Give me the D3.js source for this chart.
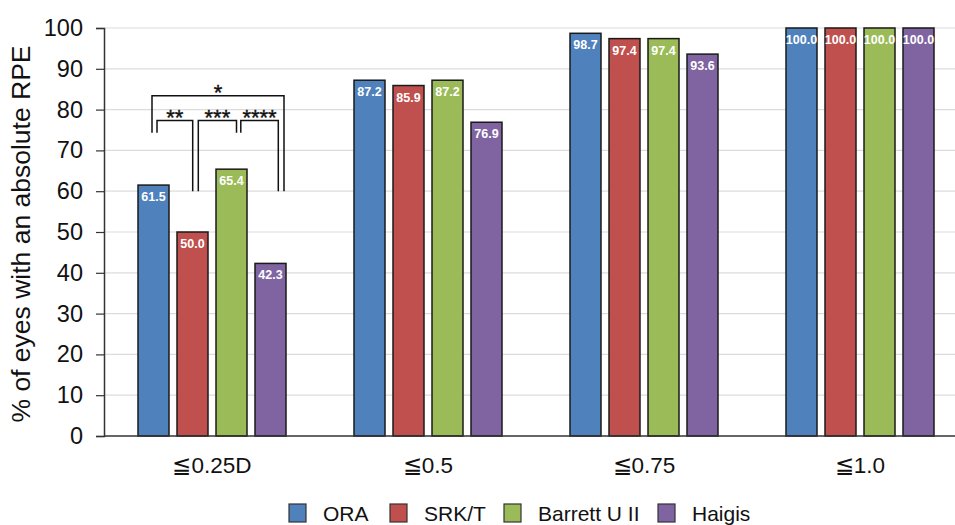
<!DOCTYPE html>
<html>
<head>
<meta charset="utf-8">
<script src="https://cdn.jsdelivr.net/npm/d3@7"></script>
<style>
    body { margin: 0; background: #fff; }
    text { font-family: "Liberation Sans", Arial, sans-serif; }
</style>
</head>
<body>
<div id="chart"></div>
<script>
const categories = ['≦0.25D', '≦0.5', '≦0.75', '≦1.0'];
const series = ['ORA', 'SRK/T', 'Barrett U II', 'Haigis'];
const colors = ['#4f81bd', '#c0504d', '#9bbb59', '#8064a2'];
const oraValues = [61.5, 87.2, 98.7, 100.0];
const srkValues = [50.0, 85.9, 97.4, 100.0];
const barrettValues = [65.4, 87.2, 97.4, 100.0];
const haigisValues = [42.3, 76.9, 93.6, 100.0];
const yTicks = [0, 10, 20, 30, 40, 50, 60, 70, 80, 90, 100];

// significance brackets for the first group: [from, to, label, bar y, left leg end, right leg end]
const brackets = [
    ['ORA', 'SRK/T', '**', 77.3, 74.3, 60, 3.5, 0.2],
    ['SRK/T', 'Barrett U II', '***', 77.3, 60, 74.3, 5.8, 5],
    ['Barrett U II', 'Haigis', '****', 77.3, 74.3, 60, 9.3, 7.8],
    ['ORA', 'Haigis', '*', 83.4, 74.3, 60, -1.5, 13.5]
];

const allValues = [oraValues, srkValues, barrettValues, haigisValues];
const width = 955;
const height = 525;
const margin = { top: 28, left: 104, bottom: 89 };
const plotBottom = height - margin.bottom;

const svg = d3.select('#chart').append('svg')
    .attr('width', width)
    .attr('height', height);

const x = d3.scaleBand().domain(categories).range([margin.left, margin.left + 864]);
const xInner = d3.scaleBand().domain(series).range([30, 186]).paddingInner(8 / 39).paddingOuter(4 / 39);
const y = d3.scaleLinear().domain([0, 100]).range([plotBottom, margin.top]);
const color = d3.scaleOrdinal().domain(series).range(colors);

// gridlines
svg.append('g').selectAll('line')
    .data(yTicks.filter(t => t > 0))
    .enter().append('line')
    .attr('x1', margin.left).attr('x2', width)
    .attr('y1', d => y(d)).attr('y2', d => y(d))
    .attr('stroke', '#dcdcdc').attr('stroke-width', 1.2);

// bars
const rows = [];
categories.forEach((c, i) => series.forEach((s, j) => rows.push({ c, s, v: allValues[j][i] })));

const bars = svg.append('g').selectAll('g')
    .data(rows)
    .enter().append('g');

bars.append('rect')
    .attr('x', d => x(d.c) + xInner(d.s))
    .attr('y', d => y(d.v))
    .attr('width', xInner.bandwidth())
    .attr('height', d => plotBottom - y(d.v))
    .attr('fill', d => color(d.s))
    .attr('stroke', '#1a1a1a')
    .attr('stroke-width', 1.5);

bars.append('text')
    .attr('x', d => x(d.c) + xInner(d.s) + xInner.bandwidth() / 2)
    .attr('y', d => y(d.v) + 16)
    .attr('text-anchor', 'middle')
    .attr('fill', '#fff')
    .attr('font-size', 12.5)
    .attr('font-weight', 'bold')
    .text(d => d.v.toFixed(1));

// axes
const yAxis = svg.append('g')
    .attr('transform', `translate(${margin.left},0)`)
    .call(d3.axisLeft(y).tickValues(yTicks).tickSize(8).tickPadding(13));
yAxis.select('.domain').attr('stroke', '#333').attr('stroke-width', 1.5);
yAxis.selectAll('.tick line').attr('stroke', '#333').attr('stroke-width', 1.2);
yAxis.selectAll('.tick text')
    .attr('font-size', 23.5)
    .attr('fill', '#111')
    .style('font-family', '"Liberation Sans", Arial, sans-serif');

svg.append('line')
    .attr('x1', margin.left).attr('x2', width)
    .attr('y1', plotBottom).attr('y2', plotBottom)
    .attr('stroke', '#333').attr('stroke-width', 1.5);

svg.append('g').selectAll('text')
    .data(categories)
    .enter().append('text')
    .attr('x', d => x(d) + x.bandwidth() / 2)
    .attr('y', 473)
    .attr('text-anchor', 'middle')
    .attr('font-size', 22.5)
    .attr('fill', '#111')
    .text(d => d);

svg.append('text')
    .attr('transform', `translate(30,${(margin.top + plotBottom) / 2 + 2}) rotate(-90)`)
    .attr('text-anchor', 'middle')
    .attr('font-size', 26.5)
    .attr('fill', '#111')
    .text('% of eyes with an absolute RPE');

// significance brackets
const cx = s => x(categories[0]) + xInner(s) + xInner.bandwidth() / 2;
const br = svg.append('g').attr('fill', 'none').attr('stroke', '#111').attr('stroke-width', 1.5);
brackets.forEach(([a, b, label, top, leftEnd, rightEnd, dxA, dxB]) => {
    const x1 = cx(a) + dxA;
    const x2 = cx(b) + dxB;
    br.append('path')
        .attr('d', `M${x1},${y(leftEnd)}V${y(top)}H${x2}V${y(rightEnd)}`);
    svg.append('text')
        .attr('x', (x1 + x2) / 2)
        .attr('y', y(top) + 4)
        .attr('text-anchor', 'middle')
        .attr('font-size', 22)
        .attr('fill', '#111')
        .attr('stroke', '#111')
        .attr('stroke-width', 0.4)
        .text(label);
});

// legend
const legendX = [289, 390, 504, 658];
const legend = svg.append('g').selectAll('g')
    .data(series)
    .enter().append('g')
    .attr('transform', (d, i) => `translate(${legendX[i]},504)`);

legend.append('rect')
    .attr('width', 17).attr('height', 18)
    .attr('fill', d => color(d))
    .attr('stroke', '#333').attr('stroke-width', 1.2);

legend.append('text')
    .attr('x', 34)
    .attr('y', 17)
    .attr('font-size', 21)
    .attr('fill', '#111')
    .text(d => d);
</script>
</body>
</html>
